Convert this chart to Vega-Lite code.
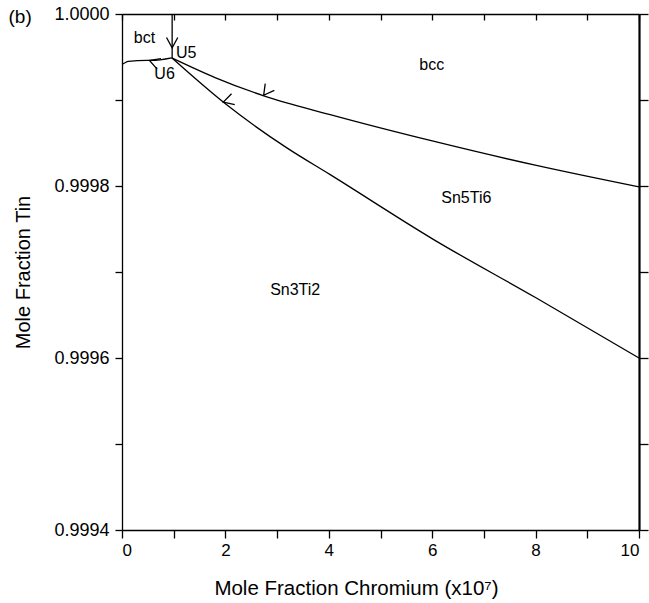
{
  "$schema": "https://vega.github.io/schema/vega-lite/v6.json",
  "width": 517,
  "height": 516,
  "autosize": {"type": "none"},
  "padding": {"left": 122, "top": 14, "right": 10, "bottom": 73},
  "background": "white",
  "config": {
    "view": {"stroke": null},
    "font": "Liberation Sans",
    "axis": {"grid": false, "domainColor": "black", "tickColor": "black", "labelColor": "black", "titleColor": "black", "labelFont": "Liberation Sans", "titleFont": "Liberation Sans", "titleFontWeight": "normal", "labelFontSize": 17, "titleFontSize": 20}
  },
  "datasets": {
    "curves": [
      {"curve": "U5", "s": 0, "x": 0.97, "y": 1.0},
      {"curve": "U5", "s": 1, "x": 0.97, "y": 0.999949},
      {"curve": "A", "s": 0, "x": 0.962, "y": 0.999949},
      {"curve": "A", "s": 1, "x": 1.8, "y": 0.9999261},
      {"curve": "A", "s": 2, "x": 2.73, "y": 0.9999051},
      {"curve": "A", "s": 3, "x": 4.027, "y": 0.999883},
      {"curve": "A", "s": 4, "x": 6.021, "y": 0.9998521},
      {"curve": "A", "s": 5, "x": 8.015, "y": 0.9998239},
      {"curve": "A", "s": 6, "x": 10.0, "y": 0.9997989},
      {"curve": "B", "s": 0, "x": 0.962, "y": 0.999949},
      {"curve": "B", "s": 1, "x": 1.994, "y": 0.9998958},
      {"curve": "B", "s": 2, "x": 3.189, "y": 0.9998443},
      {"curve": "B", "s": 3, "x": 4.027, "y": 0.9998132},
      {"curve": "B", "s": 4, "x": 6.021, "y": 0.999738},
      {"curve": "B", "s": 5, "x": 8.015, "y": 0.9996697},
      {"curve": "B", "s": 6, "x": 10.0, "y": 0.9996},
      {"curve": "U6", "s": 0, "x": 0.962, "y": 0.999949},
      {"curve": "U6", "s": 1, "x": 0.575, "y": 0.999946},
      {"curve": "U6", "s": 2, "x": 0.478, "y": 0.999946},
      {"curve": "U6", "s": 3, "x": 0.122, "y": 0.999945},
      {"curve": "U6", "s": 4, "x": 0.025, "y": 0.9999424},
      {"curve": "U6", "s": 5, "x": 0.0, "y": 0.999942}
    ],
    "arrows": [
      {"curve": "U5", "x": 0.97, "y": 0.9999607},
      {"curve": "A", "x": 2.74, "y": 0.9999055},
      {"curve": "B", "x": 1.96, "y": 0.9998975},
      {"curve": "U6", "x": 0.531, "y": 0.9999461}
    ],
    "labels": [
      {"t": "bct", "x": 0.435, "y": 0.9999726},
      {"t": "U5", "x": 1.24, "y": 0.9999552},
      {"t": "U6", "x": 0.823, "y": 0.99993},
      {"t": "bcc", "x": 5.99, "y": 0.9999412},
      {"t": "Sn5Ti6", "x": 6.66, "y": 0.999786},
      {"t": "Sn3Ti2", "x": 3.35, "y": 0.9996793}
    ],
    "panel": [
      {"t": "(b)", "x": -1.97, "y": 0.999997}
    ]
  },
  "layer": [
    {
      "data": {"name": "curves"},
      "mark": {"type": "line", "color": "black", "strokeWidth": 1.3, "clip": false, "interpolate": "monotone"},
      "encoding": {
        "x": {"field": "x", "type": "quantitative", "scale": {"domain": [0, 10], "nice": false}, "axis": {"orient": "bottom", "title": "Mole Fraction Chromium  (x10⁷)", "values": [0,1,2,3,4,5,6,7,8,9,10], "labelExpr": "datum.value % 2 == 0 ? datum.label : ''", "tickSize": 8, "labelPadding": 4, "titleY": 48, "titleX": 234, "titleFontSize": 20.5, "domainWidth": 1.3, "tickWidth": 1.3}},
        "y": {"field": "y", "type": "quantitative", "scale": {"domain": [0.9994, 1.0], "nice": false, "zero": false}, "axis": {"orient": "left", "title": "Mole Fraction Tin", "values": [0.9994, 0.9995, 0.9996, 0.9997, 0.9998, 0.9999, 1.0], "labelExpr": "abs(round(datum.value*10000)) % 2 == 0 ? format(datum.value, '.4f') : ''", "labelFontSize": 18, "tickSize": 7, "labelPadding": 6, "titleX": -89, "domainWidth": 1.3, "tickWidth": 1.3}},
        "detail": {"field": "curve"},
        "order": {"field": "s", "type": "quantitative"}
      }
    },
    {
      "data": {"name": "arrows"},
      "mark": {"type": "point", "shape": "M-1,-0.55L0,0L-1,0.55", "filled": false, "stroke": "black", "strokeWidth": 1.3, "size": 420, "opacity": 1, "clip": false},
      "encoding": {
        "x": {"field": "x", "type": "quantitative", "axis": {"orient": "top", "title": null, "labels": false, "values": [0,1,2,3,4,5,6,7,8,9,10], "tickSize": -6, "domainWidth": 1.3, "tickWidth": 1.3}},
        "y": {"field": "y", "type": "quantitative", "axis": {"orient": "right", "title": null, "labels": false, "values": [0.9994, 0.9995, 0.9996, 0.9997, 0.9998, 0.9999, 1.0], "tickSize": 9, "domainWidth": 2.2, "tickWidth": 1.3}},
        "angle": {"field": "curve", "type": "nominal", "scale": {"domain": ["U5", "A", "B", "U6"], "range": [90, 200, 220, 180]}, "legend": null}
      }
    },
    {
      "data": {"name": "labels"},
      "mark": {"type": "text", "fontSize": 16, "font": "Liberation Sans", "color": "black", "baseline": "middle", "align": "center", "clip": false},
      "encoding": {
        "x": {"field": "x", "type": "quantitative", "axis": null},
        "y": {"field": "y", "type": "quantitative", "axis": null},
        "text": {"field": "t"}
      }
    },
    {
      "data": {"name": "panel"},
      "mark": {"type": "text", "fontSize": 19, "font": "Liberation Sans", "color": "black", "baseline": "middle", "align": "center", "clip": false},
      "encoding": {
        "x": {"field": "x", "type": "quantitative", "axis": null},
        "y": {"field": "y", "type": "quantitative", "axis": null},
        "text": {"field": "t"}
      }
    }
  ],
  "resolve": {"axis": {"x": "independent", "y": "independent"}}
}
